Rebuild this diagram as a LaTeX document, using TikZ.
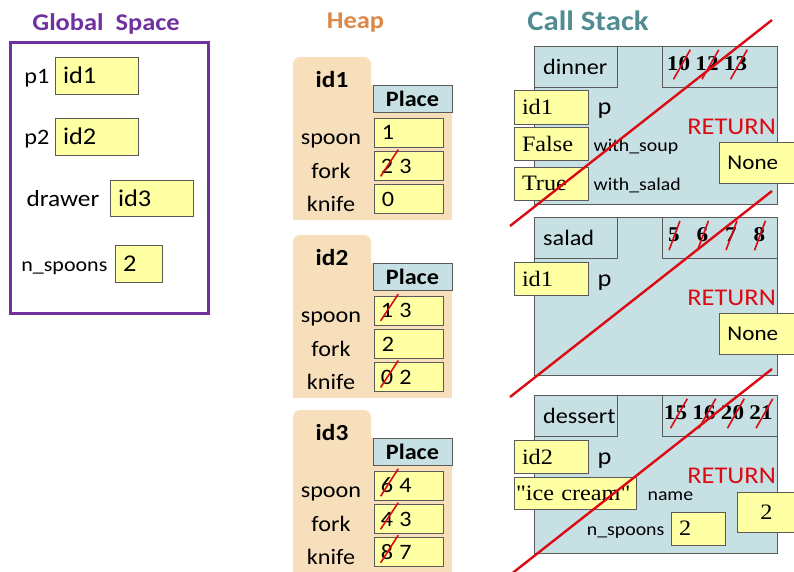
\documentclass[tikz,border=0pt]{standalone}
\usepackage{fontspec}
\setmainfont{Carlito}[FakeStretch=1.1]
\newfontfamily\timesfont{Liberation Serif}[FakeStretch=1.1]
\usetikzlibrary{positioning,calc}
\definecolor{globalpurple}{HTML}{7030A0}
\definecolor{heaporange}{HTML}{DC8746}
\definecolor{stackteal}{HTML}{508C91}
\definecolor{folder}{HTML}{F6DFBA}
\definecolor{framebg}{HTML}{C7E0E4}
\definecolor{cellyellow}{HTML}{FFFFA3}
\definecolor{cellborder}{HTML}{5A5A5A}
\definecolor{crossred}{HTML}{DC0A14}
\newcommand{\fs}[1]{\fontsize{#1}{#1}\selectfont}
\tikzstyle{title}=[font=\fs{24}\bfseries]
\tikzstyle{lab}=[font=\fs{22}, inner sep=0pt]
\tikzstyle{small}=[font=\fs{18}, inner sep=0pt]
\tikzstyle{cell}=[draw=cellborder, fill=cellyellow, line width=0.8pt, inner xsep=8pt, inner ysep=0pt, align=left, minimum height=34pt, font=\fs{22}]
\tikzstyle{tval}=[font=\timesfont\fs{22}]
\tikzstyle{box}=[draw=cellborder, line width=0.8pt]
\tikzstyle{lineno}=[font=\timesfont\fs{21}\bfseries, inner sep=0pt]
\tikzstyle{strike}=[draw=crossred, line width=1.6pt]
\tikzstyle{redline}=[draw=crossred, line width=2.4pt]

\begin{document}
\begin{tikzpicture}[x=1pt, y=-1pt]
  \useasboundingbox (0,0) rectangle (794,571);
  %
  % global space
  \node[title, text=globalpurple, anchor=base] (gtitle) at (106,30) {Global\ \ Space};
  \draw[globalpurple, line width=3pt] (10,42) rectangle (208,313);
  \node[cell, text width=67pt, minimum height=37pt, font=\fs{24}] (p1) at (96.5,75.5) {id1};
  \node[lab, anchor=base east] at ([xshift=-5pt]p1.base west) {p1};
  \node[cell, text width=67pt, minimum height=37pt, font=\fs{24}] (p2) at (96.5,136.5) {id2};
  \node[lab, anchor=base east] at ([xshift=-5pt]p2.base west) {p2};
  \node[cell, text width=67pt, minimum height=36pt, font=\fs{24}] (drawer) at (151.5,198) {id3};
  \node[lab, font=\fs{23}, anchor=base east] at ([xshift=-10pt]drawer.base west) {drawer};
  \node[cell, text width=31pt, minimum height=37pt, font=\fs{24}] (nsg) at (138.5,263.5) {2};
  \node[lab, font=\fs{20}, anchor=base east] at ([xshift=-7pt]nsg.base west) {n\_spoons};
  %
  % heap
  \node[title, text=heaporange, anchor=base] (htitle) at (355.5,28) {Heap};
  \foreach \Y/\k in {57/1,235/2,410/3} {
    \fill[folder, rounded corners=7pt] (293,\Y) rectangle (371,\Y+45);
    \fill[folder] (293,\Y+28) rectangle (452,\Y+163);
    \node[font=\fs{23}\bfseries] (id\k) at (332,\Y+23) {id\k};
    \node[box, fill=framebg, minimum width=79pt, minimum height=27pt, inner sep=0pt, font=\fs{22}\bfseries] (place\k) at (412.5,\Y+41.5) {Place};
    \foreach \f/\dy in {spoon/75.5, fork/109, knife/142} {
      \node[cell, minimum width=69pt, minimum height=29pt] (\f\k) at (408.5,\Y+\dy) {};
      \node[lab, anchor=base] at ([xshift=-77.5pt,yshift=-12pt]\f\k.center) {\f};
    }
  }
  \foreach \c/\v in {spoon1/1, knife1/0, fork2/2}
    \node[lab, anchor=west] at ([xshift=8pt]\c.west) {\v};
  \foreach \c/\o/\v in {fork1/2/3, spoon2/1/3, knife2/0/2, spoon3/6/4, fork3/4/3, knife3/8/7} {
    \node[lab, anchor=west] (\c o) at ([xshift=7pt]\c.west) {\o};
    \node[lab, anchor=west] at ([xshift=6pt]\c o.east) {\v};
    \draw[strike] ([yshift=-3pt]\c o.south west) -- ([xshift=5pt,yshift=9pt]\c o.north east);
  }
  %
  % call stack
  \node[title, font=\fs{28}\bfseries, text=stackteal, anchor=base] (stitle) at (588,30) {Call Stack};
  \foreach \Y/\fn/\xo/\nums in {46/dinner/678.5/{10,12,13}, 217/salad/674/{5,6,7,8}, 395/dessert/675.5/{15,16,20,21}} {
    \draw[box, fill=framebg] (534,\Y) rectangle (777,\Y+158);
    \node[box, minimum width=83pt, minimum height=41pt, inner sep=0pt, anchor=north west] (\fn) at (534,\Y) {};
    \node[lab, anchor=west] at ([xshift=9pt]\fn.west) {\fn};
    \draw[box] (662,\Y) rectangle (777,\Y+41);
    \foreach \n [count=\i] in \nums {
      \node[lineno] (\fn\i) at (\xo+28.5*\i-28.5,\Y+18) {\n};
      \draw[strike] ([xshift=-5pt,yshift=-8pt]\fn\i.south) -- ([yshift=7pt]\fn\i.north east);
    }
    \node[lab, font=\fs{24}, text=crossred, anchor=east] (ret\fn) at (776,\Y+81) {RETURN};
  }
  % dinner
  \node[cell, tval, text width=58pt] (dp) at (551,107) {id1};
  \node[lab, font=\fs{24}, anchor=base west] at ([xshift=9pt]dp.base east) {p};
  \node[cell, tval, text width=58pt, minimum height=33pt] (dsoup) at (551,143.5) {False};
  \node[small, anchor=base west] at ([xshift=5pt]dsoup.base east) {with\_soup};
  \node[cell, tval, text width=58pt, minimum height=33pt] (dsalad) at (551,183.5) {True};
  \node[small, anchor=base west] at ([xshift=5pt]dsalad.base east) {with\_salad};
  \node[cell, font=\fs{21}, text width=90pt, minimum height=41pt, anchor=west] (dret) at (719,162.5) {None};
  % salad
  \node[cell, tval, text width=58pt, minimum height=33pt] (sp) at (551,278.5) {id1};
  \node[lab, font=\fs{24}, anchor=base west] at ([xshift=9pt]sp.base east) {p};
  \node[cell, font=\fs{21}, text width=90pt, minimum height=41pt, anchor=west] (sret) at (719,333.5) {None};
  % dessert
  \node[cell, tval, text width=58pt, minimum height=33pt] (ep) at (551,456.5) {id2};
  \node[lab, font=\fs{24}, anchor=base west] at ([xshift=9pt]ep.base east) {p};
  \node[cell, tval, inner xsep=2pt, text width=118pt, minimum height=32pt] (ename) at (575,493) {"ice cream"};
  \node[small, anchor=base west] at ([xshift=11pt]ename.base east) {name};
  \node[cell, tval, text width=38pt, minimum height=33pt] (ens) at (698,528.5) {2};
  \node[small, anchor=base east] at ([xshift=-6pt]ens.base west) {n\_spoons};
  \node[cell, tval, align=center, text width=42pt, minimum height=40pt, anchor=west] (eret) at (737,512) {2};
  %
  \foreach \Y in {46,217,395}
    \draw[redline] (510,\Y+180) -- (772,\Y-26);
\end{tikzpicture}
\end{document}
